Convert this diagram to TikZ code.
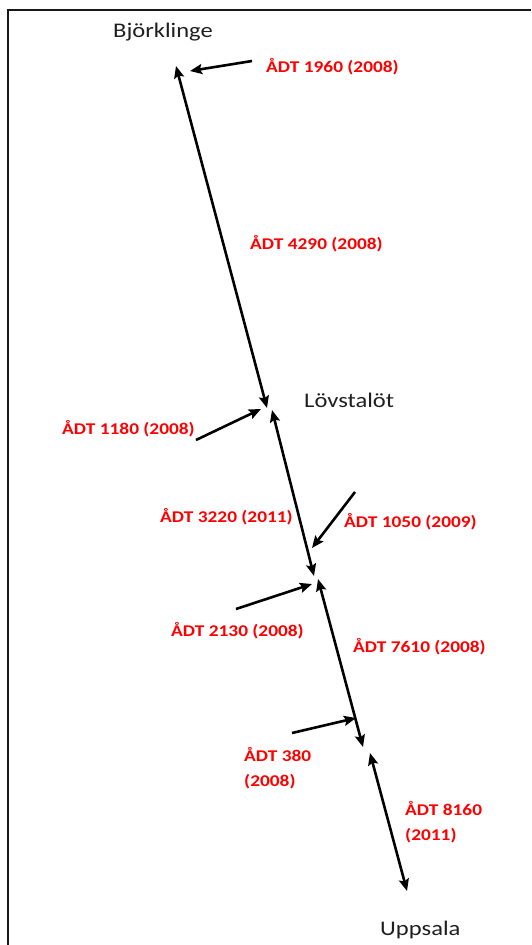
\documentclass[tikz,border=0pt]{standalone}
\usepackage{fontspec}
\setmainfont{Carlito}
\usetikzlibrary{arrows.meta}

\tikzset{
  road/.style={line width=2.6pt, black, {Stealth[length=12pt,width=10pt,inset=2pt]}-{Stealth[length=12pt,width=10pt,inset=2pt]}},
  feed/.style={line width=2.6pt, black, -{Stealth[length=12pt,width=10pt,inset=2pt]}},
  adt/.style={anchor=base west, inner sep=0pt, text=red, xscale=1.18,
    font=\fontsize{16.4}{24.5}\selectfont\bfseries, align=left},
  place/.style={anchor=base west, inner sep=0pt, text=black!88, xscale=1.18,
    font=\fontsize{20.8}{24}\selectfont},
}

\begin{document}
\begin{tikzpicture}[x=1pt,y=-1pt]
  \useasboundingbox (0,0) rectangle (531,945);
  % open frame along the top and left
  \draw[line width=2pt, black!90] (8,945) -- (8,10) -- (531,10);

  % place names
  \node[place] (bjo) at (113,37) {Björklinge};
  \node[place] (lov) at (304,407) {Lövstalöt};
  \node[place] (upp) at (380,935) {Uppsala};

  % traffic counts (two-line labels are placed by their last baseline)
  \node[adt] (a1960) at (266,72)  {ÅDT 1960 (2008)};
  \node[adt] (a4290) at (250,249) {ÅDT 4290 (2008)};
  \node[adt] (a1180) at (62,434)  {ÅDT 1180 (2008)};
  \node[adt] (a3220) at (160,522) {ÅDT 3220 (2011)};
  \node[adt] (a1050) at (344,527) {ÅDT 1050 (2009)};
  \node[adt] (a2130) at (171,636) {ÅDT 2130 (2008)};
  \node[adt] (a7610) at (353,652) {ÅDT 7610 (2008)};
  \node[adt] (a380)  at (244,786) {ÅDT 380\\(2008)};
  \node[adt] (a8160) at (405,840) {ÅDT 8160\\(2011)};

  % road sections
  \coordinate (b1) at (176,66);  \coordinate (l1) at (267,408);
  \coordinate (l2) at (272,410); \coordinate (j1) at (314,576);
  \coordinate (j2) at (318,579); \coordinate (k1) at (363,747);
  \coordinate (k2) at (370,753); \coordinate (u1) at (407,891);
  \draw[road] (b1) -- (l1);
  \draw[road] (l2) -- (j1);
  \draw[road] (j2) -- (k1);
  \draw[road] (k2) -- (u1);

  % side roads feeding in
  \coordinate (s1) at (252,61);  \coordinate (t1) at (190,71);
  \coordinate (s2) at (196,440); \coordinate (t2) at (261,409);
  \coordinate (s3) at (355,492); \coordinate (t3) at (312,548);
  \coordinate (s4) at (236,609); \coordinate (t4) at (312,584);
  \coordinate (s5) at (292,733); \coordinate (t5) at (356,718);
  \draw[feed] (s1) -- (t1);
  \draw[feed] (s2) -- (t2);
  \draw[feed] (s3) -- (t3);
  \draw[feed] (s4) -- (t4);
  \draw[feed] (s5) -- (t5);
\end{tikzpicture}
\end{document}
